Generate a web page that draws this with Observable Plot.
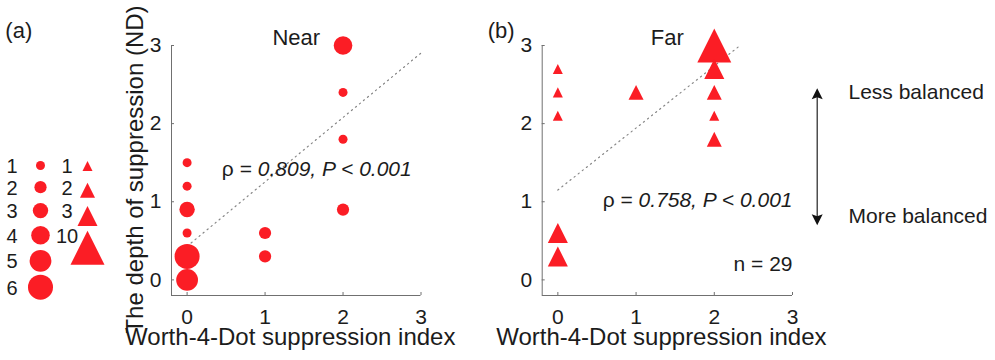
<!DOCTYPE html>
<html>
<head>
<meta charset="utf-8">
<script src="https://cdn.jsdelivr.net/npm/d3@7"></script>
<script src="https://cdn.jsdelivr.net/npm/@observablehq/plot@0.6"></script>
<style>
  body { margin: 0; background: #fff; }
  #chart { position: relative; width: 995px; height: 360px; overflow: hidden; }
  #chart svg { position: absolute; left: 0; top: 0; }
</style>
</head>
<body>
<div id="chart"></div>
<script>
// ---------------- data ----------------
// (a) Near: Worth-4-Dot index, depth of suppression (ND), number of observers
const nearX = [0, 0, 0, 0, 0, 0, 1, 1, 2, 2, 2, 2];
const nearY = [0, 0.3, 0.6, 0.9, 1.2, 1.5, 0.3, 0.6, 0.9, 1.8, 2.4, 3.0];
const nearN = [5, 6, 1, 3, 1, 1, 2, 2, 2, 1, 1, 4];
// (b) Far
const farX = [0, 0, 0, 0, 0, 1, 2, 2, 2, 2, 2];
const farY = [0.3, 0.6, 2.1, 2.4, 2.7, 2.4, 1.8, 2.1, 2.4, 2.7, 3.0];
const farN = [3, 3, 1, 1, 1, 2, 2, 1, 2, 3, 10];
// regression (dotted) lines
const nearFitX = [0, 3.02];
const nearFitY = [0.43, 2.92];
const farFitX = [0, 2.33];
const farFitY = [1.15, 3.0];
// ticks & texts
const xTicks = [0, 1, 2, 3];
const yTicks = [0, 1, 2, 3];
const circleLegend = [1, 2, 3, 4, 5, 6];
const triangleLegend = [1, 2, 3, 10];
const nearRho = "0.809";
const farRho = "0.758";
const pText = "P < 0.001";
const sampleSize = "n = 29";
const titles = ["Near", "Far"];
const tags = ["(a)", "(b)"];
const xLabel = "Worth-4-Dot suppression index";
const yLabel = "The depth of suppression (ND)";
const balanceLabels = ["Less balanced", "More balanced"];

// ---------------- style ----------------
const FONT = '"Liberation Sans", Arial, Helvetica, sans-serif';
const RED = "#fb1d25";
const AXIS = "#707070";
const TEXT = "#1c1c1c";
const W = 995, H = 360, MT = 45, MB = 65;
const frameH = H - MT - MB;

const circleR = {type: "linear", domain: [1, 6], range: [4.5, 12.5]};
const triR = {type: "linear", domain: [1, 2, 3, 10], range: [3.99, 5.98, 7.98, 13.56]};

// MATLAB-like '^' marker: isoceles, height = width, centred on its bounding box
const triCentered = {
  draw(ctx, size) {
    const w = Math.sqrt(2 * size);
    ctx.moveTo(0, -w / 2); ctx.lineTo(w / 2, w / 2); ctx.lineTo(-w / 2, w / 2); ctx.closePath();
  }
};
// legend triangles aligned by their top vertex
const triTop = {
  draw(ctx, size) {
    const w = Math.sqrt(2 * size);
    ctx.moveTo(0, -4.5); ctx.lineTo(w / 2, -4.5 + w); ctx.lineTo(-w / 2, -4.5 + w); ctx.closePath();
  }
};
// arrow head with tip at origin
const arrowHead = {
  draw(ctx) {
    ctx.moveTo(0, 0); ctx.lineTo(5.5, 11); ctx.lineTo(0, 9); ctx.lineTo(-5.5, 11); ctx.closePath();
  }
};

const baseStyle = {background: "transparent", fontFamily: FONT, fontSize: "21px", color: TEXT, overflow: "visible"};

function panel(o) {
  const frameW = W - o.ml - o.mr;
  const pts = o.X.map((x, i) => ({x, y: o.Y[i], n: o.N[i]}));
  const fit = o.fitX.map((x, i) => ({x, y: o.fitY[i]}));
  const stat = `ρ = ${o.rho}, ${pText}`;
  const marks = [
    Plot.ruleX([-0.2], {stroke: AXIS}),
    Plot.ruleY([-0.2], {stroke: AXIS}),
    Plot.tickX(xTicks, {x: d => d, stroke: AXIS, insetTop: frameH - 3}),
    Plot.tickY(yTicks, {y: d => d, stroke: AXIS, insetRight: frameW - 3}),
    Plot.line(fit, {x: "x", y: "y", stroke: "#858585", strokeWidth: 1.2, strokeDasharray: "1.2,4"}),
    Plot.dot(pts, {x: "x", y: "y", r: "n", fill: RED, symbol: o.symbol}),
    Plot.text([o.title], {text: d => d, frameAnchor: "top", dy: -16, fontSize: 22, fill: TEXT}),
    Plot.text([o.tag], {text: d => d, frameAnchor: "top-left", textAnchor: "middle", dx: o.tagDx, dy: -23, fontSize: 22, fill: TEXT}),
    Plot.text([xLabel], {text: d => d, frameAnchor: "bottom", dx: -6, dy: 49.5, fontSize: 24, fill: TEXT}),
    Plot.text([stat], {text: d => d, frameAnchor: "right", textAnchor: "end", dx: o.statDx, dy: o.statDy, fontSize: 21, fill: TEXT})
  ];
  if (o.yLabel) marks.push(Plot.text([o.yLabel], {text: d => d, frameAnchor: "left", textAnchor: "middle", rotate: -90, dx: -36, dy: -1, fontSize: 24, fill: TEXT}));
  if (o.nText) marks.push(Plot.text([o.nText], {text: d => d, frameAnchor: "right", textAnchor: "end", dy: 93.3, fontSize: 21, fill: TEXT}));
  return Plot.plot({
    width: W, height: H,
    marginLeft: o.ml, marginRight: o.mr, marginTop: MT, marginBottom: MB,
    style: baseStyle,
    x: {domain: [-0.2, 3], ticks: xTicks, tickFormat: d => String(d), tickSize: 0, tickPadding: 13.5, label: null},
    y: {domain: [-0.2, 3], ticks: yTicks, tickFormat: d => String(d), tickSize: 0, tickPadding: 10, label: null},
    r: o.r,
    marks
  });
}

const chart = document.getElementById("chart");

const panelA = panel({
  X: nearX, Y: nearY, N: nearN, fitX: nearFitX, fitY: nearFitY,
  ml: 171, mr: W - 420.5, r: circleR, symbol: "circle",
  title: titles[0], tag: tags[0], tagDx: -152.7, rho: nearRho, statDx: -9.3, statDy: -1.7,
  yLabel: yLabel
});
const panelB = panel({
  X: farX, Y: farY, N: farN, fitX: farFitX, fitY: farFitY,
  ml: 541.7, mr: W - 792, r: triR, symbol: triCentered,
  title: titles[1], tag: tags[1], tagDx: -41, rho: farRho, statDx: 0, statDy: 30,
  nText: sampleSize
});

// size legend: circles (Near)
const legendRows = {type: "pow", exponent: 1.15, domain: [1, 6], range: [165, 286.7], axis: null};
const legendCircles = Plot.plot({
  width: W, height: H, marginLeft: 0, marginRight: 0, marginTop: 0, marginBottom: 0,
  style: baseStyle,
  y: legendRows, r: circleR,
  marks: [
    Plot.text(circleLegend, {y: d => d, text: d => String(d), frameAnchor: "left", textAnchor: "middle", dx: 11.5, dy: 1, fontSize: 20, fill: TEXT}),
    Plot.dot(circleLegend, {y: d => d, r: d => d, fill: RED, frameAnchor: "left", dx: 40})
  ]
});
// size legend: triangles (Far)
const legendTriangles = Plot.plot({
  width: W, height: H, marginLeft: 0, marginRight: 0, marginTop: 0, marginBottom: 0,
  style: baseStyle,
  y: legendRows, r: triR,
  marks: [
    Plot.text(triangleLegend, {y: (d, i) => i + 1, text: d => String(d), frameAnchor: "left", textAnchor: "middle", dx: 66.5, dy: 1, fontSize: 20, fill: TEXT}),
    Plot.dot(triangleLegend, {y: (d, i) => i + 1, r: d => d, fill: RED, symbol: triTop, frameAnchor: "left", dx: 87})
  ]
});

// balance annotation (double arrow)
const annotation = Plot.plot({
  width: W, height: H, marginLeft: 816.7, marginRight: W - 848, marginTop: 91.6, marginBottom: H - 216.3,
  style: baseStyle,
  x: {domain: [0, 1], axis: null},
  y: {type: "point", domain: balanceLabels, padding: 0, axis: null},
  marks: [
    Plot.ruleX([0], {x: d => d, y1: () => balanceLabels[0], y2: () => balanceLabels[1], stroke: "#222", strokeWidth: 1.2, insetTop: -1, insetBottom: -4}),
    Plot.dot([balanceLabels[0]], {x: () => 0, y: d => d, symbol: arrowHead, fill: "#111", dy: -4.3}),
    Plot.dot([balanceLabels[1]], {x: () => 0, y: d => d, symbol: arrowHead, fill: "#111", rotate: 180, dy: 8.7}),
    Plot.text(balanceLabels, {y: d => d, text: d => d, frameAnchor: "right", textAnchor: "start", fontSize: 21, fill: TEXT})
  ]
});

for (const svg of [legendCircles, legendTriangles, panelA, panelB, annotation]) chart.appendChild(svg);

// mixed upright / italic statistics text
const NS = "http://www.w3.org/2000/svg";
chart.querySelectorAll("text").forEach(t => {
  const s = t.textContent;
  if (!s.startsWith("ρ = ")) return;
  const k = s.indexOf("= ") + 2;
  while (t.firstChild) t.removeChild(t.firstChild);
  const a = document.createElementNS(NS, "tspan");
  a.textContent = s.slice(0, k);
  const b = document.createElementNS(NS, "tspan");
  b.setAttribute("font-style", "italic");
  b.textContent = s.slice(k);
  t.append(a, b);
});
</script>
</body>
</html>
